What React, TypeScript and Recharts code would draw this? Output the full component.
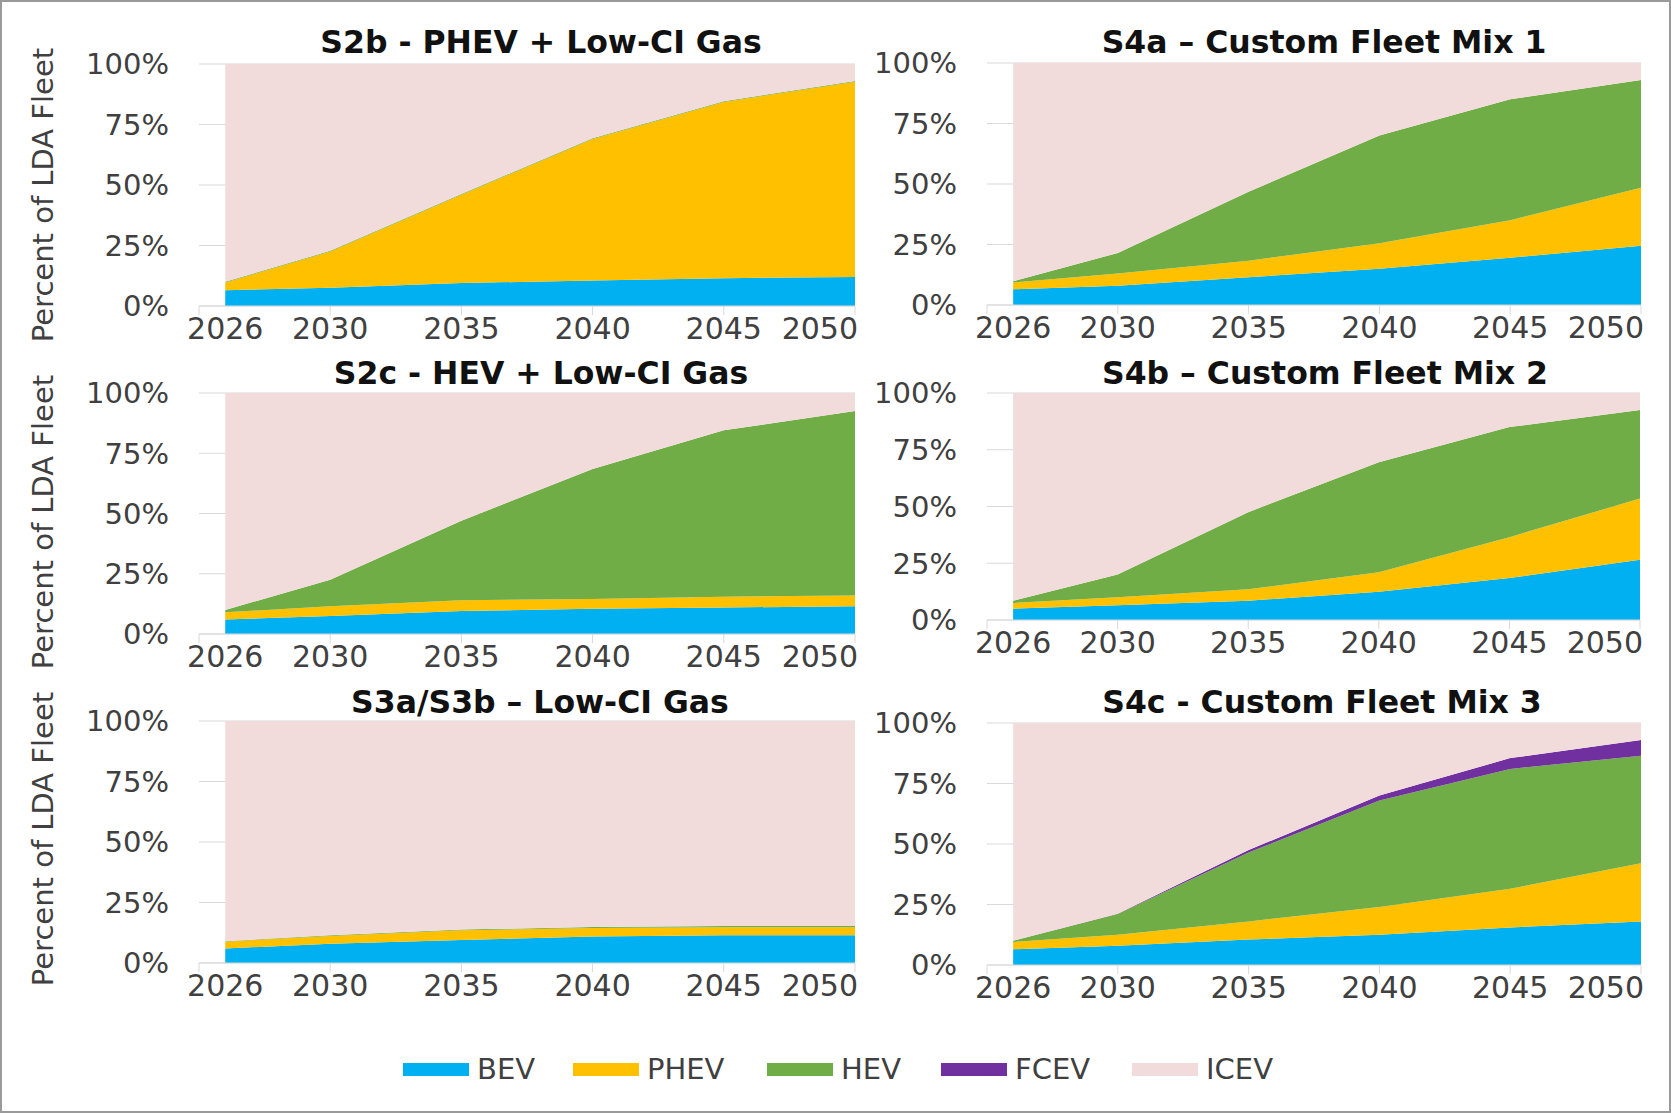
import { Area, AreaChart, CartesianGrid, XAxis, YAxis } from "recharts";

// years on the x axis (Excel date axis starts one year before the first point)
const YEARS = [2026, 2030, 2035, 2040, 2045, 2050];
const X_TICKS = [2025, 2026, 2030, 2035, 2040, 2045, 2050];
const Y_TICKS = [0, 25, 50, 75, 100];

const TYPES = ["BEV", "PHEV", "HEV", "FCEV", "ICEV"];
const COLORS: Record<string, string> = {
  BEV: "#00B0F0",
  PHEV: "#FFC000",
  HEV: "#70AD47",
  FCEV: "#7030A0",
  ICEV: "#F2DCDB",
};

// shares of the LDA fleet, %
const s2bBev = [6.5, 7.5, 9.5, 10.5, 11.5, 12.0];
const s2bPhev = [3.2, 15.0, 36.5, 58.5, 72.8, 80.7];
const s2bHev = [0.3, 0.3, 0.3, 0.3, 0.3, 0.3];
const s2bFcev = [0, 0, 0, 0, 0, 0];
const s2bIcev = [90.0, 77.2, 53.7, 30.7, 15.4, 7.0];

const s4aBev = [6.5, 8.0, 11.5, 15.0, 19.5, 24.5];
const s4aPhev = [2.8, 5.0, 6.8, 10.5, 15.5, 24.0];
const s4aHev = [0.5, 8.5, 28.5, 44.5, 50.0, 44.5];
const s4aFcev = [0, 0, 0, 0, 0, 0];
const s4aIcev = [90.2, 78.5, 53.2, 30.0, 15.0, 7.0];

const s2cBev = [6.0, 7.5, 9.5, 10.5, 11.0, 11.5];
const s2cPhev = [3.0, 4.0, 4.5, 4.0, 4.5, 4.5];
const s2cHev = [1.0, 11.0, 33.0, 54.0, 69.0, 76.5];
const s2cFcev = [0, 0, 0, 0, 0, 0];
const s2cIcev = [90.0, 77.5, 53.0, 31.5, 15.5, 7.5];

const s4bBev = [5.0, 6.5, 8.5, 12.5, 18.5, 26.5];
const s4bPhev = [2.5, 3.5, 5.0, 8.5, 18.0, 27.0];
const s4bHev = [1.0, 10.0, 34.0, 48.5, 48.5, 39.0];
const s4bFcev = [0, 0, 0, 0, 0, 0];
const s4bIcev = [91.5, 80.0, 52.5, 30.5, 15.0, 7.5];

const s3Bev = [6.0, 8.0, 9.5, 11.0, 11.5, 11.5];
const s3Phev = [2.8, 3.2, 4.0, 3.5, 3.3, 3.3];
const s3Hev = [0.2, 0.3, 0.3, 0.4, 0.5, 0.5];
const s3Fcev = [0, 0, 0, 0, 0, 0];
const s3Icev = [91.0, 88.5, 86.2, 85.1, 84.7, 84.7];

const s4cBev = [6.5, 8.0, 10.5, 12.5, 15.5, 18.0];
const s4cPhev = [3.0, 4.5, 7.5, 11.5, 16.0, 24.0];
const s4cHev = [0.5, 8.6, 28.5, 44.0, 49.5, 44.5];
const s4cFcev = [0.0, 0.1, 1.0, 2.0, 4.5, 6.5];
const s4cIcev = [90.0, 78.8, 52.5, 30.0, 14.5, 7.0];

function buildRows(series: number[][]) {
  return YEARS.map((year, i) => {
    const row: Record<string, number> = { year };
    TYPES.forEach((t, k) => {
      row[t] = series[k][i];
    });
    return row;
  });
}

const FONT = "Verdana, 'DejaVu Sans', sans-serif";
const TEXT = "#404040";
const GRID = "#d9d9d9";

// plot boxes in page pixels: x0 = 2025, x1 = 2050, y0 = 100%, y1 = 0%
const PANELS = [
  {
    title: "S2b - PHEV + Low-CI Gas",
    rows: buildRows([s2bBev, s2bPhev, s2bHev, s2bFcev, s2bIcev]),
    box: { x0: 197, x1: 853, y0: 62, y1: 304 },
    titleAt: [541, 53],
  },
  {
    title: "S4a \u2013 Custom Fleet Mix 1",
    rows: buildRows([s4aBev, s4aPhev, s4aHev, s4aFcev, s4aIcev]),
    box: { x0: 985, x1: 1639, y0: 61, y1: 303 },
    titleAt: [1324, 53],
  },
  {
    title: "S2c - HEV + Low-CI Gas",
    rows: buildRows([s2cBev, s2cPhev, s2cHev, s2cFcev, s2cIcev]),
    box: { x0: 197, x1: 853, y0: 391, y1: 632 },
    titleAt: [541, 384],
  },
  {
    title: "S4b \u2013 Custom Fleet Mix 2",
    rows: buildRows([s4bBev, s4bPhev, s4bHev, s4bFcev, s4bIcev]),
    box: { x0: 985, x1: 1638, y0: 391, y1: 618 },
    titleAt: [1325, 384],
  },
  {
    title: "S3a/S3b \u2013 Low-CI Gas",
    rows: buildRows([s3Bev, s3Phev, s3Hev, s3Fcev, s3Icev]),
    box: { x0: 197, x1: 853, y0: 719, y1: 961 },
    titleAt: [540, 713],
  },
  {
    title: "S4c - Custom Fleet Mix 3",
    rows: buildRows([s4cBev, s4cPhev, s4cHev, s4cFcev, s4cIcev]),
    box: { x0: 985, x1: 1639, y0: 721, y1: 963 },
    titleAt: [1322, 713],
  },
];

const Y_LABEL_CENTERS = [195, 522, 839];
// legend swatch left edges, page pixels
const LEGEND_X = [403, 573, 767, 941, 1132];

const AXIS_W = 140;
const TOP_PAD = 30;
const AXIS_H = 60;
const RIGHT_PAD = 24;

// 2025 gets only a tick mark, 2026 only a label, 2050 label pulled inside
function YearTick(props: any) {
  const { x, y, payload } = props;
  const v = payload.value;
  const last = v === 2050;
  return (
    <g>
      {v !== 2026 && <line x1={x} x2={x} y1={y} y2={y + 9} stroke={GRID} />}
      {v !== 2025 && (
        <text
          x={last ? x + 3 : x}
          y={y + 33}
          textAnchor={last ? "end" : "middle"}
          fontSize={30}
          fontFamily={FONT}
          fill={TEXT}
        >
          {v}
        </text>
      )}
    </g>
  );
}

function Panel({ rows, box }: { rows: Record<string, number>[]; box: { x0: number; x1: number; y0: number; y1: number } }) {
  const width = AXIS_W + (box.x1 - box.x0) + RIGHT_PAD;
  const height = TOP_PAD + (box.y1 - box.y0) + AXIS_H;
  return (
    <div style={{ position: "absolute", left: box.x0 - AXIS_W, top: box.y0 - TOP_PAD }}>
      <AreaChart
        width={width}
        height={height}
        data={rows}
        margin={{ top: TOP_PAD, right: RIGHT_PAD, left: 0, bottom: 0 }}
      >
        <CartesianGrid stroke={GRID} vertical={false} />
        <XAxis
          dataKey="year"
          type="number"
          domain={[2025, 2050]}
          ticks={X_TICKS}
          interval={0}
          height={AXIS_H}
          tickSize={0}
          tickMargin={0}
          tickLine={false}
          axisLine={{ stroke: GRID }}
          tick={<YearTick />}
        />
        <YAxis
          type="number"
          domain={[0, 100]}
          ticks={Y_TICKS}
          interval={0}
          width={AXIS_W}
          tickSize={0}
          tickMargin={30}
          axisLine={false}
          tickLine={false}
          tickFormatter={(v: number) => `${v}%`}
          tick={{ fill: TEXT, fontSize: 29, fontFamily: FONT }}
        />
        {TYPES.map((t) => (
          <Area
            key={t}
            type="linear"
            dataKey={t}
            stackId="fleet"
            stroke="none"
            fill={COLORS[t]}
            fillOpacity={1}
            dot={false}
            activeDot={false}
            isAnimationActive={false}
          />
        ))}
      </AreaChart>
    </div>
  );
}

export default function App() {
  return (
    <div
      style={{
        position: "absolute",
        left: 0,
        top: 0,
        width: 1671,
        height: 1113,
        boxSizing: "border-box",
        border: "2px solid #9a9a9a",
        background: "#fff",
        fontFamily: FONT,
      }}
    >
      {PANELS.map((p) => (
        <Panel key={p.title} rows={p.rows} box={p.box} />
      ))}

      <svg
        width={1671}
        height={1113}
        style={{ position: "absolute", left: -2, top: -2, pointerEvents: "none" }}
      >
        {PANELS.map((p) => (
          <text
            key={p.title}
            x={p.titleAt[0]}
            y={p.titleAt[1]}
            textAnchor="middle"
            fontSize={31.5}
            fontWeight="bold"
            fontFamily={FONT}
            fill="#111"
          >
            {p.title}
          </text>
        ))}
        {Y_LABEL_CENTERS.map((cy) => (
          <text
            key={cy}
            transform={`translate(53, ${cy}) rotate(-90)`}
            textAnchor="middle"
            fontSize={29}
            fontFamily={FONT}
            fill={TEXT}
          >
            Percent of LDA Fleet
          </text>
        ))}
      </svg>

      {TYPES.map((t, i) => (
        <div
          key={t}
          style={{
            position: "absolute",
            left: LEGEND_X[i] - 2,
            top: 1048,
            height: 38,
            display: "flex",
            alignItems: "center",
          }}
        >
          <div style={{ width: 66, height: 13, background: COLORS[t], marginRight: 8 }} />
          <span style={{ fontSize: 29, color: TEXT, lineHeight: "38px" }}>{t}</span>
        </div>
      ))}
    </div>
  );
}
